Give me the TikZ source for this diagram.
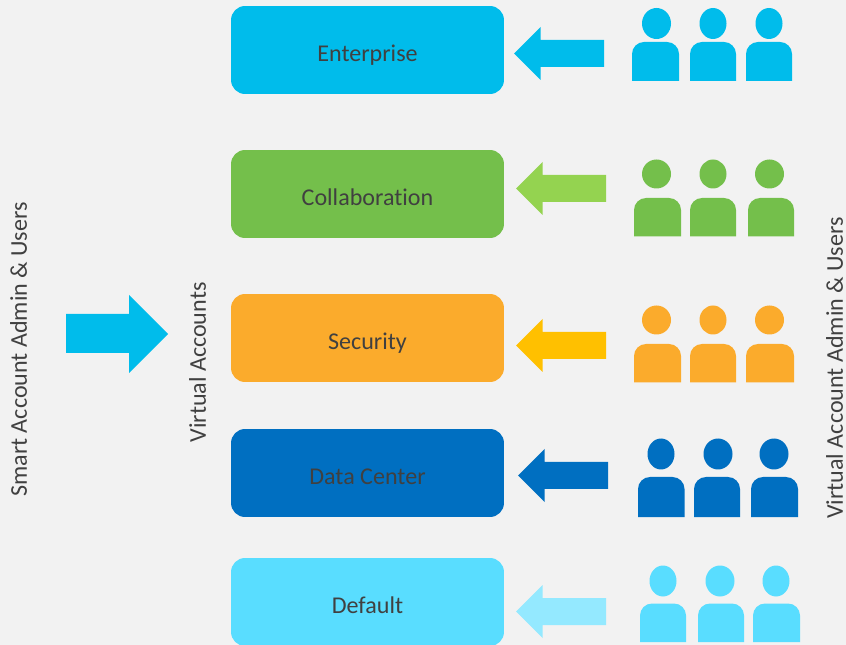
\documentclass[tikz,border=0pt]{standalone}
\usepackage{fontspec}
\setmainfont[Ligatures=NoCommon]{Carlito}
\definecolor{backgray}{HTML}{F2F2F2}
\definecolor{labelgray}{HTML}{404040}
\definecolor{entblue}{HTML}{00BCEB}
\definecolor{collgreen}{HTML}{74BF4B}
\definecolor{collarrow}{HTML}{94D350}
\definecolor{secorange}{HTML}{FBAB2C}
\definecolor{secarrow}{HTML}{FFC000}
\definecolor{dcblue}{HTML}{006FC1}
\definecolor{defblue}{HTML}{59DDFF}
\definecolor{defarrow}{HTML}{94E9FF}
\tikzset{
  vaccount/.style={rounded corners=2.8mm,minimum width=5.46cm,minimum height=1.76cm,
    inner sep=0pt,outer sep=0pt,text=labelgray,text height=13pt,text depth=0pt,
    font=\fontsize{13.7pt}{16pt}\selectfont},
  sidelabel/.style={rotate=90,text=labelgray,inner sep=0pt,text height=12.4pt,text depth=0pt,
    font=\fontsize{13.7pt}{16pt}\selectfont}
}
% one person of a group: colour, head x, head width, head y, head height, body left, body right, body top, body bottom
\newcommand{\oneuser}[9]{
  \fill[#1] (#2,#4) ellipse [x radius=#3,y radius=#5];
  \fill[#1] (#6,#9) [rounded corners=2.4mm] -- (#6,#8) -- (#7,#8) [sharp corners] -- (#7,#9) -- cycle;
}
% arrow pointing left: colour, tip x, centre y
\newcommand{\backarrow}[3]{
  \fill[#1] (#2,#3) -- ++(26.5,-26.5) -- ++(0,13) -- ++(63.5,0) -- ++(0,27) -- ++(-63.5,0) -- ++(0,13) -- cycle;
}
\begin{document}
\begin{tikzpicture}[x=0.02cm,y=-0.02cm]
\useasboundingbox (0,0) rectangle (846,645);
\clip (0,0) rectangle (846,645);
\fill[backgray] (0,0) rectangle (846,645);

\node[vaccount,fill=entblue] (enterprise) at (367.5,50) {Enterprise};
\node[vaccount,fill=collgreen] (collaboration) at (367.5,194) {Collaboration};
\node[vaccount,fill=secorange] (security) at (367.5,338) {Security};
\node[vaccount,fill=dcblue] (datacenter) at (367.5,473) {Data Center};
\node[vaccount,fill=defblue] (default) at (367.5,602) {Default};

\node[sidelabel] (smartlabel) at (16,349.5) {Smart Account Admin \& Users};
\node[sidelabel] (virtuallabel) at (195,362.5) {Virtual Accounts};
\node[sidelabel] (userlabel) at (832,368) {Virtual Account Admin \& Users};

\fill[entblue] (66,314) -- (129,314) -- (129,295) -- (168,334) -- (129,373) -- (129,353) -- (66,353) -- cycle;

\backarrow{entblue}{514}{53.5}
\backarrow{collarrow}{516}{188.5}
\backarrow{secarrow}{516}{345.5}
\backarrow{dcblue}{518}{475.5}
\backarrow{defarrow}{516}{611.5}

\foreach \hx/\hw/\bl/\br in {656.5/14.5/632/679,713/13.5/690/736,769/13.5/746/792}
  {\oneuser{entblue}{\hx}{\hw}{23.5}{15.5}{\bl}{\br}{42}{81}}
\foreach \hx/\hw/\bl/\br in {656.5/14.5/634/681,713/13.5/690/736,769.5/14.5/748/794}
  {\oneuser{collgreen}{\hx}{\hw}{174}{14.5}{\bl}{\br}{198}{236.5}}
\foreach \hx/\hw/\bl/\br in {656.5/14.5/634/681,713/13.5/690/736,769.5/14.5/746/794}
  {\oneuser{secorange}{\hx}{\hw}{320}{14.5}{\bl}{\br}{344}{382.5}}
\foreach \hx/\hw/\bl/\br in {661/13.5/638/684.5,718/14.5/694/740,774/14.5/751/798}
  {\oneuser{dcblue}{\hx}{\hw}{454}{15.5}{\bl}{\br}{477}{517}}
\foreach \hx/\hw/\bl/\br in {663/13.5/640/686,720/14.5/698/744,776/13.5/753/800}
  {\oneuser{defblue}{\hx}{\hw}{581}{15.5}{\bl}{\br}{603.5}{642}}
\end{tikzpicture}
\end{document}
